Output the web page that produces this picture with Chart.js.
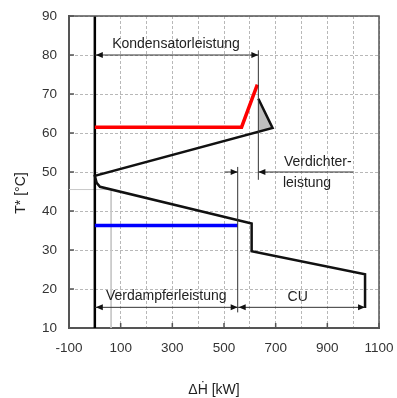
<!DOCTYPE html>
<html>
<head>
<meta charset="utf-8">
<script src="https://cdn.jsdelivr.net/npm/chart.js@4.4.0/dist/chart.umd.min.js"></script>
<style>
  html, body { margin: 0; padding: 0; background: #fff; }
  #wrap { width: 397px; height: 398px; }
</style>
</head>
<body>
<div id="wrap"><canvas id="chart" width="397" height="398"></canvas></div>
<script>
// Werte: dH in kW, T* in °C
const xTicks = [-100, 100, 300, 500, 700, 900, 1100];
const yTicks = [10, 20, 30, 40, 50, 60, 70, 80, 90];

// Summenkurve (schwarz)
const kurveH = [1046, 1046, 607, 607, 20, 7, 0, 688, 633];
const kurveT = [15.1, 23.8, 29.7, 36.8, 46.2, 47.2, 49.0, 61.3, 68.8];

// Kondensator (rot)
const kondH = [0, 568, 629];
const kondT = [61.5, 61.5, 72.4];

// Verdampfer (blau)
const verdH = [0, 553];
const verdT = [36.3, 36.3];

// Dreieck Verdichter (grau gefüllt)
const dreieckH = [633, 688, 633, 633];
const dreieckT = [60.3, 61.3, 68.8, 60.3];

// Linie bei dH = 0
const nullH = [0, 0];
const nullT = [10, 90];

// hellgraue Hilfslinie
const grauH = [-100, 63, 63];
const grauT = [45.5, 45.5, 10];

// Maßlinien: [x1, y1, x2, y2, Pfeil am Anfang, Pfeil am Ende]
const pfeile = [
  [0, 80, 633, 80, true, true],        // Kondensatorleistung
  [504, 50, 553, 50, false, true],     // Verdichterleistung links
  [1000, 50, 633, 50, false, true],    // Verdichterleistung rechts
  [0, 15.3, 553, 15.3, true, true],    // Verdampferleistung
  [553, 15.3, 1046, 15.3, true, true], // CU
  [553, 51.3, 553, 14, false, false],
  [633, 81.2, 633, 48, false, false]
];

// Beschriftungen: [Text, x, y (Grundlinie), Ausrichtung]
const texte = [
  ['Kondensatorleistung', 314, 81.9, 'center'],
  ['Verdichter-', 732, 51.5, 'left'],
  ['leistung', 728, 46.2, 'left'],
  ['Verdampferleistung', 43, 17.1, 'left'],
  ['CU', 785, 16.9, 'center']
];

function punkte(hs, ts) {
  return hs.map((h, i) => ({ x: h, y: ts[i] }));
}

const schrift = '"Liberation Sans", Arial, sans-serif';

const extras = {
  id: 'extras',
  afterDatasetsDraw(chart) {
    const { ctx, chartArea: a, scales: { x, y } } = chart;
    ctx.save();

    // Rahmen oben und rechts
    ctx.strokeStyle = '#555';
    ctx.lineWidth = 1.5;
    ctx.beginPath();
    ctx.moveTo(a.left, a.top);
    ctx.lineTo(a.right, a.top);
    ctx.lineTo(a.right, a.bottom);
    ctx.stroke();

    // Ticks nach innen
    ctx.lineWidth = 1.5;
    xTicks.forEach(v => {
      const px = x.getPixelForValue(v);
      ctx.beginPath();
      ctx.moveTo(px, a.bottom);
      ctx.lineTo(px, a.bottom - 5);
      ctx.stroke();
    });
    yTicks.forEach(v => {
      const py = y.getPixelForValue(v);
      ctx.beginPath();
      ctx.moveTo(a.left, py);
      ctx.lineTo(a.left + 5, py);
      ctx.stroke();
    });

    // Maßlinien mit Pfeilspitzen
    ctx.strokeStyle = '#333';
    ctx.fillStyle = '#111';
    ctx.lineWidth = 1;
    pfeile.forEach(p => {
      const x1 = x.getPixelForValue(p[0]), y1 = y.getPixelForValue(p[1]);
      const x2 = x.getPixelForValue(p[2]), y2 = y.getPixelForValue(p[3]);
      ctx.beginPath();
      ctx.moveTo(x1, y1);
      ctx.lineTo(x2, y2);
      ctx.stroke();
      const spitze = (tx, ty, fx, fy) => {
        const w = Math.atan2(ty - fy, tx - fx);
        ctx.beginPath();
        ctx.moveTo(tx, ty);
        ctx.lineTo(tx - 7 * Math.cos(w) + 3 * Math.sin(w), ty - 7 * Math.sin(w) - 3 * Math.cos(w));
        ctx.lineTo(tx - 7 * Math.cos(w) - 3 * Math.sin(w), ty - 7 * Math.sin(w) + 3 * Math.cos(w));
        ctx.closePath();
        ctx.fill();
      };
      if (p[4]) spitze(x1 + 1, y1, x2, y2);
      if (p[5]) spitze(x2, y2, x1, y1);
    });

    // Texte
    ctx.fillStyle = '#222';
    ctx.font = '14px ' + schrift;
    ctx.textBaseline = 'alphabetic';
    texte.forEach(t => {
      ctx.textAlign = t[3];
      ctx.fillText(t[0], x.getPixelForValue(t[1]), y.getPixelForValue(t[2]));
    });

    // Achsentitel
    ctx.fillStyle = '#222';
    ctx.textAlign = 'center';
    ctx.textBaseline = 'middle';
    ctx.fillText('\u0394\u1E22 [kW]', (a.left + a.right) / 2 - 10, 390);
    ctx.translate(21, 193);
    ctx.rotate(-Math.PI / 2);
    ctx.fillText('T* [°C]', 0, 0);

    ctx.restore();
  }
};

const ctx = document.getElementById('chart').getContext('2d');
new Chart(ctx, {
  type: 'scatter',
  data: {
    datasets: [
      {
        data: punkte(kurveH, kurveT),
        showLine: true, borderColor: '#111', borderWidth: 2.5,
        pointRadius: 0, fill: false
      },
      {
        data: punkte(kondH, kondT),
        showLine: true, borderColor: '#ff0000', borderWidth: 3.5,
        pointRadius: 0, fill: false
      },
      {
        data: punkte(verdH, verdT),
        showLine: true, borderColor: '#0000ff', borderWidth: 3.5,
        pointRadius: 0, fill: false
      },
      {
        data: punkte(nullH, nullT),
        showLine: true, borderColor: '#000', borderWidth: 2.5,
        pointRadius: 0, fill: false
      },
      {
        data: punkte(dreieckH, dreieckT),
        showLine: true, borderColor: 'rgba(0,0,0,0)', borderWidth: 0,
        backgroundColor: '#c0c0c0', pointRadius: 0, fill: 'shape'
      },
      {
        data: punkte(grauH, grauT),
        showLine: true, borderColor: '#c8c8c8', borderWidth: 1,
        pointRadius: 0, fill: false
      }
    ]
  },
  options: {
    responsive: false,
    animation: false,
    layout: { padding: { left: 0, right: 18, top: 16, bottom: 0 } },
    plugins: { legend: { display: false }, tooltip: { enabled: false } },
    scales: {
      x: {
        type: 'linear', min: -100, max: 1100,
        afterFit: s => { s.height = 70; s.paddingLeft = 0; s.paddingRight = 0; },
        ticks: {
          stepSize: 100, autoSkip: false, maxRotation: 0, padding: 12,
          color: '#333', font: { family: schrift, size: 13.5 },
          callback: v => xTicks.includes(v) ? String(v) : ''
        },
        grid: { color: '#b8b8b8', lineWidth: 1, drawTicks: false },
        border: { display: true, color: '#555', width: 2, dash: [3, 2] }
      },
      y: {
        type: 'linear', min: 10, max: 90,
        afterFit: s => { s.width = 69; s.paddingTop = 0; s.paddingBottom = 0; },
        ticks: {
          stepSize: 10, autoSkip: false, padding: 12,
          color: '#333', font: { family: schrift, size: 13.5 },
          callback: v => yTicks.includes(v) ? String(v) : ''
        },
        grid: { color: '#b8b8b8', lineWidth: 1, drawTicks: false },
        border: { display: true, color: '#555', width: 2, dash: [3, 2] }
      }
    }
  },
  plugins: [extras]
});
</script>
</body>
</html>
